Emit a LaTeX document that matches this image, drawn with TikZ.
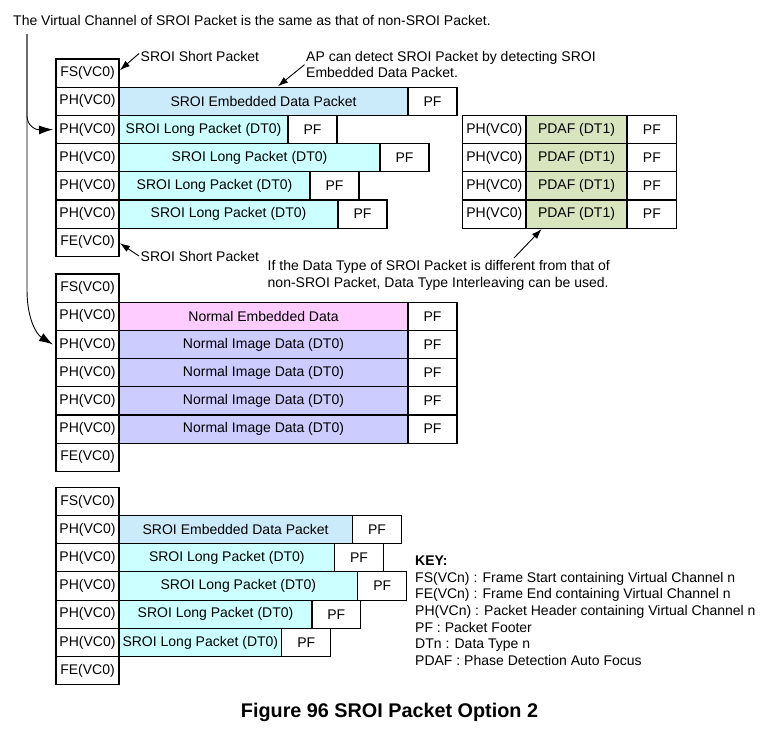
\documentclass[tikz,border=0pt]{standalone}
\usepackage{fontspec}
\setmainfont{Liberation Sans}
\usetikzlibrary{arrows.meta}
\definecolor{sroiemb}{HTML}{CCEBFA}
\definecolor{sroilong}{HTML}{CCFFFF}
\definecolor{normemb}{HTML}{FFCCFF}
\definecolor{normimg}{HTML}{CCCCFF}
\definecolor{pdafc}{HTML}{D7E4BD}
\newcommand\pcell[7]{%
  \node[cell, fill=#6, minimum width={(#3-#2)*1pt}, minimum height={(#5-#4)*1pt}, anchor=north west] (#1) at (#2,#4) {#7};}
\tikzset{
  cell/.style={draw=black, line width=1.1pt, inner sep=0pt, outer sep=0pt,
    font=\fontsize{14}{16}\selectfont},
  lbl/.style={inner sep=0pt, font=\fontsize{14}{16.5}\selectfont, align=left},
  bigarr/.style={line width=0.9pt, -{Latex[length=14pt,width=9pt]}},
  smallarr/.style={line width=0.9pt, -{Latex[length=10pt,width=7pt]}},
}
\begin{document}
\begin{tikzpicture}[x=1pt,y=-1pt]
\useasboundingbox (0,0) rectangle (781,731);
% ---------- top block
\pcell{t0h}{56}{119}{59}{87.2}{white}{FS(VC0)}
\pcell{t1h}{56}{119}{87.2}{115.4}{white}{PH(VC0)}
\pcell{t1e}{119}{408}{87.2}{115.4}{sroiemb}{SROI Embedded Data Packet}
\pcell{t1f}{408}{457}{87.2}{115.4}{white}{PF}
\pcell{t2h}{56}{119}{115.4}{143.6}{white}{PH(VC0)}
\pcell{t2e}{119}{288}{115.4}{143.6}{sroilong}{SROI Long Packet (DT0)}
\pcell{t2f}{288}{337}{115.4}{143.6}{white}{PF}
\pcell{t3h}{56}{119}{143.6}{171.8}{white}{PH(VC0)}
\pcell{t3e}{119}{380}{143.6}{171.8}{sroilong}{SROI Long Packet (DT0)}
\pcell{t3f}{380}{429}{143.6}{171.8}{white}{PF}
\pcell{t4h}{56}{119}{171.8}{200}{white}{PH(VC0)}
\pcell{t4e}{119}{310}{171.8}{200}{sroilong}{SROI Long Packet (DT0)}
\pcell{t4f}{310}{359}{171.8}{200}{white}{PF}
\pcell{t5h}{56}{119}{200}{228.2}{white}{PH(VC0)}
\pcell{t5e}{119}{338}{200}{228.2}{sroilong}{SROI Long Packet (DT0)}
\pcell{t5f}{338}{387}{200}{228.2}{white}{PF}
\pcell{t6h}{56}{119}{228.2}{256.4}{white}{FE(VC0)}
% ---------- PDAF block
\pcell{p2h}{462.7}{526}{115.4}{143.6}{white}{PH(VC0)}
\pcell{p2e}{526}{627}{115.4}{143.6}{pdafc}{PDAF (DT1)}
\pcell{p2f}{627}{676.7}{115.4}{143.6}{white}{PF}
\pcell{p3h}{462.7}{526}{143.6}{171.8}{white}{PH(VC0)}
\pcell{p3e}{526}{627}{143.6}{171.8}{pdafc}{PDAF (DT1)}
\pcell{p3f}{627}{676.7}{143.6}{171.8}{white}{PF}
\pcell{p4h}{462.7}{526}{171.8}{200}{white}{PH(VC0)}
\pcell{p4e}{526}{627}{171.8}{200}{pdafc}{PDAF (DT1)}
\pcell{p4f}{627}{676.7}{171.8}{200}{white}{PF}
\pcell{p5h}{462.7}{526}{200}{228.2}{white}{PH(VC0)}
\pcell{p5e}{526}{627}{200}{228.2}{pdafc}{PDAF (DT1)}
\pcell{p5f}{627}{676.7}{200}{228.2}{white}{PF}
% ---------- middle block
\pcell{m0h}{56}{119}{274}{302.2}{white}{FS(VC0)}
\pcell{m1h}{56}{119}{302.2}{330.4}{white}{PH(VC0)}
\pcell{m1e}{119}{408}{302.2}{330.4}{normemb}{Normal Embedded Data}
\pcell{m1f}{408}{457}{302.2}{330.4}{white}{PF}
\pcell{m2h}{56}{119}{330.4}{358.6}{white}{PH(VC0)}
\pcell{m2e}{119}{408}{330.4}{358.6}{normimg}{Normal Image Data (DT0)}
\pcell{m2f}{408}{457}{330.4}{358.6}{white}{PF}
\pcell{m3h}{56}{119}{358.6}{386.8}{white}{PH(VC0)}
\pcell{m3e}{119}{408}{358.6}{386.8}{normimg}{Normal Image Data (DT0)}
\pcell{m3f}{408}{457}{358.6}{386.8}{white}{PF}
\pcell{m4h}{56}{119}{386.8}{415}{white}{PH(VC0)}
\pcell{m4e}{119}{408}{386.8}{415}{normimg}{Normal Image Data (DT0)}
\pcell{m4f}{408}{457}{386.8}{415}{white}{PF}
\pcell{m5h}{56}{119}{415}{443.2}{white}{PH(VC0)}
\pcell{m5e}{119}{408}{415}{443.2}{normimg}{Normal Image Data (DT0)}
\pcell{m5f}{408}{457}{415}{443.2}{white}{PF}
\pcell{m6h}{56}{119}{443.2}{471.4}{white}{FE(VC0)}
% ---------- bottom block
\pcell{b0h}{56}{119}{487.3}{515.5}{white}{FS(VC0)}
\pcell{b1h}{56}{119}{515.5}{543.7}{white}{PH(VC0)}
\pcell{b1e}{119}{352.3}{515.5}{543.7}{sroiemb}{SROI Embedded Data Packet}
\pcell{b1f}{352.3}{401.7}{515.5}{543.7}{white}{PF}
\pcell{b2h}{56}{119}{543.7}{571.9}{white}{PH(VC0)}
\pcell{b2e}{119}{334.7}{543.7}{571.9}{sroilong}{SROI Long Packet (DT0)}
\pcell{b2f}{334.7}{383.3}{543.7}{571.9}{white}{PF}
\pcell{b3h}{56}{119}{571.9}{600.1}{white}{PH(VC0)}
\pcell{b3e}{119}{357.7}{571.9}{600.1}{sroilong}{SROI Long Packet (DT0)}
\pcell{b3f}{357.7}{406.7}{571.9}{600.1}{white}{PF}
\pcell{b4h}{56}{119}{600.1}{628.3}{white}{PH(VC0)}
\pcell{b4e}{119}{312}{600.1}{628.3}{sroilong}{SROI Long Packet (DT0)}
\pcell{b4f}{312}{360.7}{600.1}{628.3}{white}{PF}
\pcell{b5h}{56}{119}{628.3}{656.5}{white}{PH(VC0)}
\pcell{b5e}{119}{281.7}{628.3}{656.5}{sroilong}{SROI Long Packet (DT0)}
\pcell{b5f}{281.7}{330.7}{628.3}{656.5}{white}{PF}
\pcell{b6h}{56}{119}{656.5}{684.7}{white}{FE(VC0)}
% ---------- texts
\node[lbl, anchor=west] (toptxt) at (13,20) {The Virtual Channel of SROI Packet is the same as that of non-SROI Packet.};
\node[lbl, anchor=west] (s1) at (140.5,56.5) {SROI Short Packet};
\node[lbl, anchor=west] (ap) at (306,64.7) {AP can detect SROI Packet by detecting SROI\\Embedded Data Packet.};
\node[lbl, anchor=west] (s2) at (140.5,256) {SROI Short Packet};
\node[lbl, anchor=west] (dt) at (267.5,275.5) {If the Data Type of SROI Packet is different from that of\\non-SROI Packet, Data Type Interleaving can be used.};
\node[lbl, anchor=west, font=\fontsize{14}{16.7}\selectfont] (key) at (415,610.7) {\textbf{KEY:}\\FS(VCn) : Frame Start containing Virtual Channel n\\FE(VCn) : Frame End containing Virtual Channel n\\PH(VCn) : Packet Header containing Virtual Channel n\\PF : Packet Footer\\DTn : Data Type n\\PDAF : Phase Detection Auto Focus};
\node[lbl, font=\fontsize{19.8}{22}\selectfont\bfseries] (cap) at (389.5,712.7) {Figure 96 SROI Packet Option 2};
% ---------- connectors
\coordinate (vtop) at (27,34);
\coordinate (dttail) at (514,258);
\draw[bigarr] (vtop) -- (27,116) .. controls (27,126) and (36,130) .. ([xshift=-3pt]t2h.west);
\draw[bigarr] (vtop) -- (27,290) .. controls (27,318) and (36,334) .. ([xshift=-3pt]m2h.west);
\draw[smallarr] ([xshift=-1.5pt,yshift=3pt]s1.west) -- ([xshift=1pt,yshift=3pt]t0h.east);
\draw[smallarr] ([xshift=-1.5pt]ap.west) -- ([xshift=14.5pt,yshift=1pt]t1e.north);
\draw[smallarr] ([xshift=-1.5pt]s2.west) -- ([xshift=1pt,yshift=-1pt]t6h.east);
\draw[smallarr] (dttail) -- ([xshift=-35pt,yshift=-1pt]p5e.south);
\end{tikzpicture}
\end{document}
